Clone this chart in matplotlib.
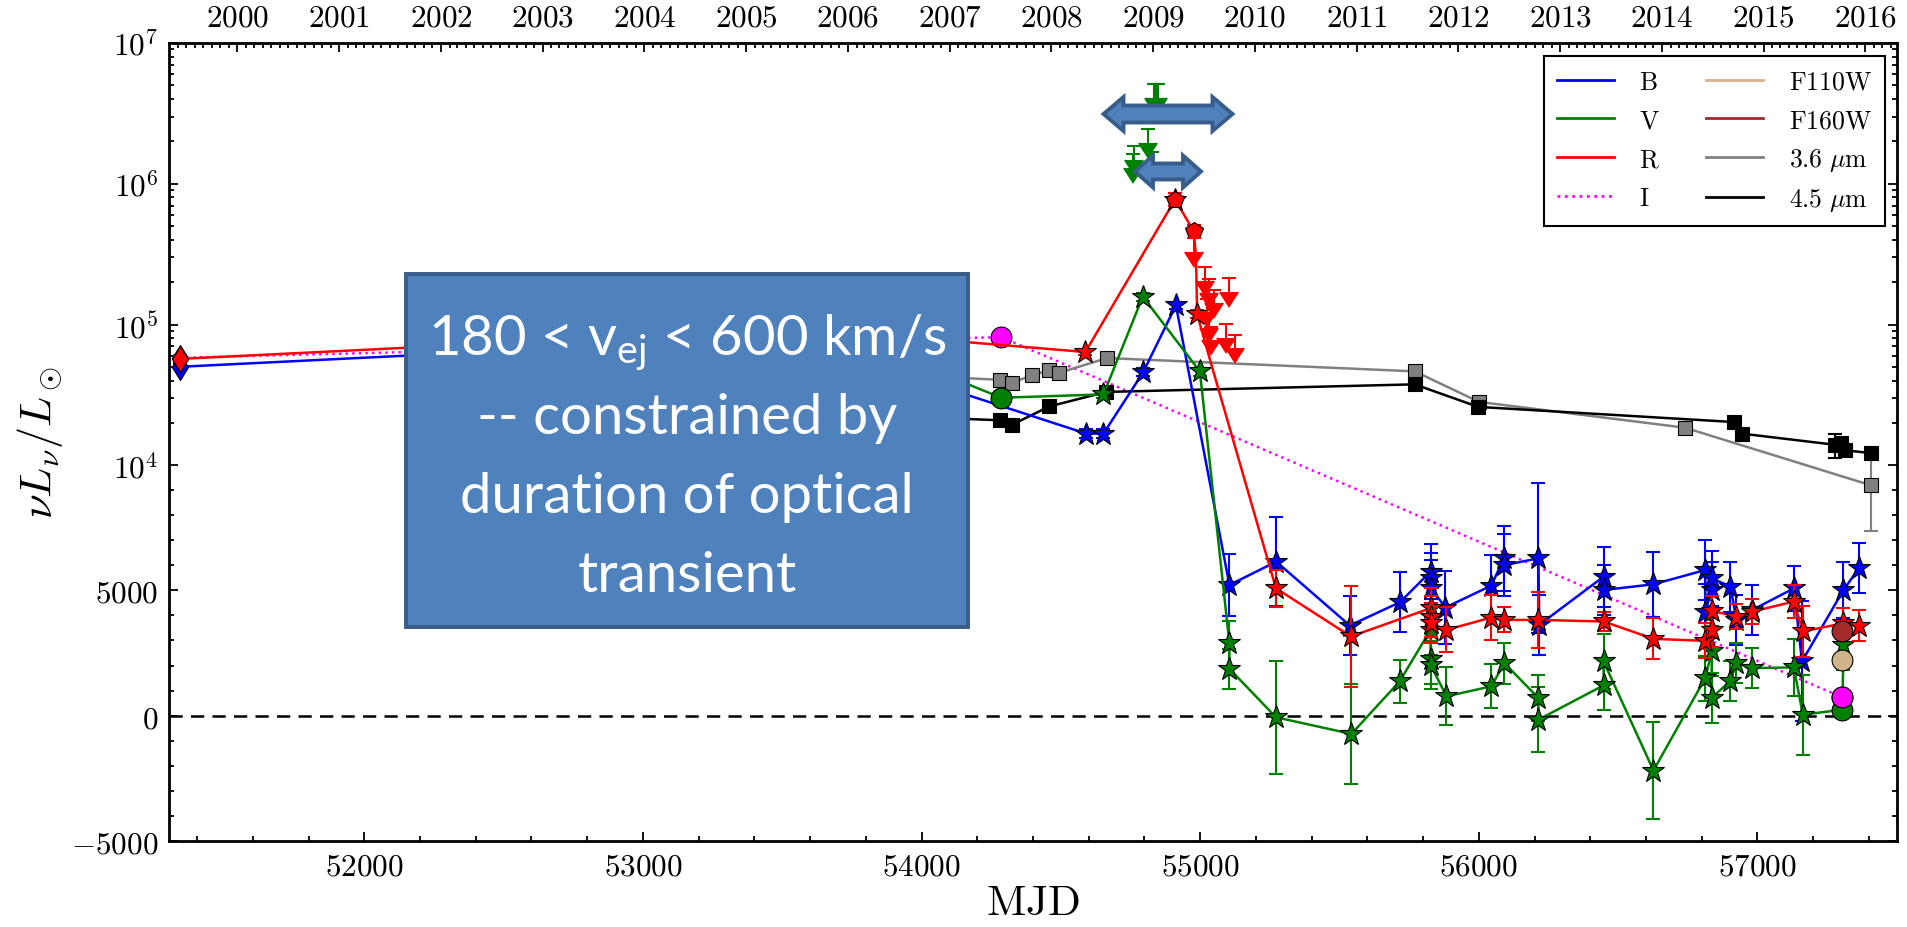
import numpy as np
import matplotlib.pyplot as plt
from matplotlib.lines import Line2D, CARETDOWNBASE
from matplotlib.patches import Polygon, Rectangle

plt.rcParams['mathtext.fontset'] = 'cm'
plt.rcParams['mathtext.rm'] = 'Lato'
plt.rcParams['mathtext.it'] = 'Lato:italic'

W, H = 1907, 928

# ---- light curves: MJD, nuL_nu/L_sun, 1-sigma error, marker ----
B_mjd = [51338, 53522, 54591, 54653, 54796, 54913, 55105, 55273, 55537, 55717,
         55827, 55827, 55827, 55880, 56045, 56090, 56092, 56214, 56217, 56448,
         56449, 56627, 56813, 56813, 56836, 56836, 56903, 56925, 56982, 57131,
         57160, 57309, 57364]
B_val = [50100, 81800, 16800, 16800, 46000, 137000, 5218, 6150, 3599, 4528,
         5752, 5485, 5114, 4317, 5194, 6282, 6015, 6282, 3624, 5552,
         5018, 5246, 5816, 4157, 5018, 5485, 5154, 3823, 4221, 5086,
         2164, 5018, 5883]
B_err = [2000, 3000, 1200, 1200, 3000, 8000, 1230, 1770, 1180, 1200,
         1100, 1000, 1100, 1440, 1240, 1300, 1250, 3000, 1200, 1200,
         1000, 1300, 1200, 1100, 1100, 1100, 1000, 1000, 1000, 900,
         2400, 1100, 1000]
B_mk = ['d'] + ['*'] * 32

V_mjd = [54029, 54286, 54653, 54794, 54999, 55105, 55105, 55272, 55543, 55716,
         55827, 55827, 55827, 55884, 56045, 56092, 56214, 56214, 56448, 56448,
         56627, 56813, 56836, 56836, 56903, 56925, 56982, 57131, 57163, 57305,
         57309]
V_val = [48500, 30200, 31900, 158000, 46400, 2890, 1870, -68, -733, 1367,
         3424, 2268, 2029, 769, 1168, 2097, 702, -163, 1208, 2164,
         -2196, 1499, 2563, 702, 1391, 2097, 1897, 1925, 36, 235,
         2830]
V_err = [3000, 1500, 2000, 10000, 3000, 900, 800, 2260, 2000, 850,
         1000, 1000, 950, 1160, 880, 820, 900, 1300, 1000, 1100,
         1950, 900, 1000, 1000, 800, 800, 800, 1130, 1600, 0,
         1000]
V_mk = ['o', 'o'] + ['*'] * 27 + ['o', '*']

R_mjd = [51338, 53566, 54588, 54910, 54910, 54976.5, 54985, 54989, 55041, 55272,
         55541, 55827, 55827, 55827, 55884, 56045, 56092, 56214, 56448, 56627,
         56813, 56836, 56836, 56925, 56982, 57131, 57163, 57309, 57364]
R_val = [57000, 94000, 63800, 773000, 773000, 461000, 309000, 119000, 51300, 5086,
         3161, 4289, 3958, 3691, 3424, 3918, 3823, 3823, 3759, 3065,
         2986, 3424, 4181, 3958, 4157, 4556, 3360, 3691, 3599]
R_err = [2500, 3000, 3000, 80000, 80000, 48000, 0, 8000, 0, 750,
         2030, 800, 800, 800, 900, 880, 500, 1130, 370, 820,
         700, 700, 600, 500, 500, 650, 1000, 600, 630]
R_mk = ['d', 'o', '*', '*', 'p', 'p', '', '*', ''] + ['*'] * 20

I_mjd = [51338, 54286, 57305]
I_val = [58100, 81400, 730]
I_err = [3000, 3000, 0]
I_mk = ['d', 'o', 'o']

F110_mjd, F110_val = [57305], [2228]
F160_mjd, F160_val = [57305], [3360]

IR36_mjd = [54064, 54280, 54324, 54395, 54459, 54492, 54666, 55770, 56001, 56740, 57408]
IR36_val = [42500, 40500, 38500, 43500, 47300, 45300, 57800, 46500, 28200, 18500, 9200]
IR36_err = [1000] * 10 + [1830]

IR45_mjd = [54064, 54283, 54324, 54459, 54662, 55770, 55998, 56915, 56943, 57278,
            57300, 57314, 57408]
IR45_val = [21700, 20900, 19400, 26200, 33200, 37600, 26000, 20300, 16800, 14000,
            14400, 12800, 12200]
IR45_err = [500] * 9 + [2800, 800, 500, 500]

# upper limits
R_ul_mjd = [54978, 55018.5, 55033, 55048, 55105, 55026, 55033, 55040, 55093, 55124]
R_ul_val = [411000, 256000, 211000, 177000, 214000, 153000, 119000, 96500, 101000, 84700]
V_ul_mjd = [54836, 54843, 54850, 54811, 54764, 54826, 54760]
V_ul_val = [5.12e6, 5.12e6, 5.12e6, 2.45e6, 1.85e6, 1.69e6, 1.63e6]

years = list(range(2000, 2017))
epoch = np.datetime64('1858-11-17')
year_mjd = [int((np.datetime64(f'{y}-01-01') - epoch).astype(int)) for y in years]
month_mjd = [int((np.datetime64(f'{y}-{m:02d}-01') - epoch).astype(int))
             for y in range(1999, 2018) for m in range(1, 13)]

MS = {'*': 17, 's': 10, 'o': 15, 'd': 13, 'p': 13}

fig = plt.figure(figsize=(W / 100, H / 100), dpi=100)
ax = fig.add_axes([169.3 / W, 1 - 841.7 / H, (1896.7 - 169.3) / W, (841.7 - 44) / H])
ax.set_yscale('symlog', linthresh=1e4, linscale=1.6)


def band(mjd, val, err, mk, color, ls='-', zl=2):
    mjd, val, err = np.array(mjd), np.array(val, float), np.array(err, float)
    mk = np.array(mk)
    ax.plot(mjd, val, ls=ls, color=color, lw=1.8, zorder=zl)
    e = err > 0
    ax.errorbar(mjd[e], val[e], yerr=err[e], fmt='none', ecolor=color,
                elinewidth=1.5, capsize=5, capthick=1.5, zorder=zl + 0.5)
    for m in MS:
        s = mk == m
        if s.any():
            ax.plot(mjd[s], val[s], ls='none', marker=m, ms=MS[m], mfc=color,
                    mec='k', mew=0.8, zorder=zl + 1)


def uplim(mjd, val, color):
    _, caps, _ = ax.errorbar(mjd, val, yerr=0.2 * np.array(val), uplims=True, fmt='none',
                             ecolor=color, elinewidth=1.5, capsize=5, capthick=1.5, zorder=7)
    for c in caps:
        c.set_markerfacecolor(color)
        c.set_markeredgecolor(color)
        if c.get_marker() == CARETDOWNBASE:
            c.set_markersize(13)


band(I_mjd, I_val, I_err, I_mk, 'magenta', ls=':', zl=2)
band(IR36_mjd, IR36_val, IR36_err, ['s'] * len(IR36_mjd), 'gray', zl=3)
band(IR45_mjd, IR45_val, IR45_err, ['s'] * len(IR45_mjd), 'k', zl=3)
band(B_mjd, B_val, B_err, B_mk, 'b', zl=4)
band(V_mjd, V_val, V_err, V_mk, 'g', zl=5)
band(R_mjd, R_val, R_err, R_mk, 'r', zl=6)
ax.plot(I_mjd[-1:], I_val[-1:], 'o', ms=15, mfc='magenta', mec='k', mew=0.8, zorder=9)
ax.plot(F110_mjd, F110_val, 'o', ms=15, mfc='tan', mec='k', mew=0.8, zorder=9)
ax.plot(F160_mjd, F160_val, 'o', ms=15, mfc='brown', mec='k', mew=0.8, zorder=9)

uplim(R_ul_mjd, R_ul_val, 'r')
uplim(V_ul_mjd, V_ul_val, 'g')

ax.axhline(0, color='k', ls='--', lw=1.8, dashes=(5.3, 3.3), zorder=1)

ax.set_xlim(51300, 57500)
ax.set_ylim(-5000, 1e7)
ax.set_xticks([52000, 53000, 54000, 55000, 56000, 57000])
ax.set_xticklabels([rf'$\mathrm{{{v}}}$' for v in range(52000, 58000, 1000)])
ax.set_xticks(np.arange(51400, 57500, 200), minor=True)
yt = [-5000, 0, 5000, 1e4, 1e5, 1e6, 1e7]
ax.set_yticks(yt)
ax.set_yticklabels([r'$-5000$', r'$0$', r'$5000$', r'$10^{4}$', r'$10^{5}$',
                    r'$10^{6}$', r'$10^{7}$'])
ymin = [v for v in range(-4000, 10000, 1000) if v % 5000]
for d in (1e4, 1e5, 1e6):
    ymin += [k * d for k in range(2, 10)]
ax.set_yticks(ymin, minor=True)
ax.tick_params(which='both', direction='in', top=False, right=True, width=1.3)
ax.tick_params(which='major', length=6.5, labelsize=22.5, pad=8)
ax.tick_params(which='minor', length=3.6)
for sp in ax.spines.values():
    sp.set_linewidth(2)
ax.set_xlabel(r'$\mathrm{MJD}$', fontsize=31, labelpad=0)
ax.set_ylabel(r'$\nu L_\nu/L_\odot$', fontsize=32, labelpad=4)

ax2 = ax.twiny()
ax2.set_xlim(ax.get_xlim())
ax2.set_xticks(year_mjd)
ax2.set_xticklabels([rf'$\mathrm{{{y}}}$' for y in years])
ax2.set_xticks([m for m in month_mjd if 51300 < m < 57500], minor=True)
ax2.tick_params(which='both', direction='in', width=1.3)
ax2.tick_params(which='major', length=6.5, labelsize=22.5, pad=8)
ax2.tick_params(which='minor', length=3.6)

handles = [Line2D([], [], color=c, ls=ls, lw=2) for c, ls in
           [('b', '-'), ('g', '-'), ('r', '-'), ('magenta', ':'),
            ('tan', '-'), ('brown', '-'), ('gray', '-'), ('k', '-')]]
labels = [r'$\mathrm{B}$', r'$\mathrm{V}$', r'$\mathrm{R}$', r'$\mathrm{I}$',
          r'$\mathrm{F110W}$', r'$\mathrm{F160W}$', r'$3.6\ \mu\mathrm{m}$', r'$4.5\ \mu\mathrm{m}$']
leg = ax.legend(handles, labels, ncol=2, loc='upper right', bbox_to_anchor=(0.993, 0.984),
                borderaxespad=0, fontsize=18.5, fancybox=False, edgecolor='k', framealpha=1,
                handlelength=2.2, labelspacing=0.5, columnspacing=1.8, handletextpad=1.0,
                borderpad=0.5)
leg.get_frame().set_linewidth(1.5)
leg.set_zorder(20)


# ---- overlaid annotation (figure pixel coordinates) ----
def fx(x):
    return x / W


def fy(y):
    return 1 - y / H


fill, edge = '#4F81BD', '#385D8A'
fig.add_artist(Rectangle((fx(406), fy(627.5)), (968 - 406) / W, (627.5 - 275) / H,
                         transform=fig.transFigure, fc=fill, ec=edge, lw=2.8, zorder=5))
box_lines = ['180 < v$_{\\rm ej}$ < 600 km/s', '-- constrained by', 'duration of optical', 'transient']
for i, s in enumerate(box_lines):
    fig.text(fx(687), fy(355 + 79 * i), s, ha='center', va='baseline', color='white',
             fontsize=40.5, family='Lato', math_fontfamily='custom', zorder=6)


def darrow(x0, x1, cy, shaft, head, hl):
    pts = [(x0, cy), (x0 + hl, cy - head), (x0 + hl, cy - shaft), (x1 - hl, cy - shaft),
           (x1 - hl, cy - head), (x1, cy), (x1 - hl, cy + head), (x1 - hl, cy + shaft),
           (x0 + hl, cy + shaft), (x0 + hl, cy + head)]
    fig.add_artist(Polygon([(fx(a), fy(b)) for a, b in pts], closed=True,
                           transform=fig.transFigure, fc=fill, ec=edge, lw=2.8, zorder=5))


darrow(1103.5, 1232.5, 115, 8.5, 17, 20)
darrow(1135, 1201, 172.5, 8, 16, 18)

fig.savefig('out.png', dpi=100)
